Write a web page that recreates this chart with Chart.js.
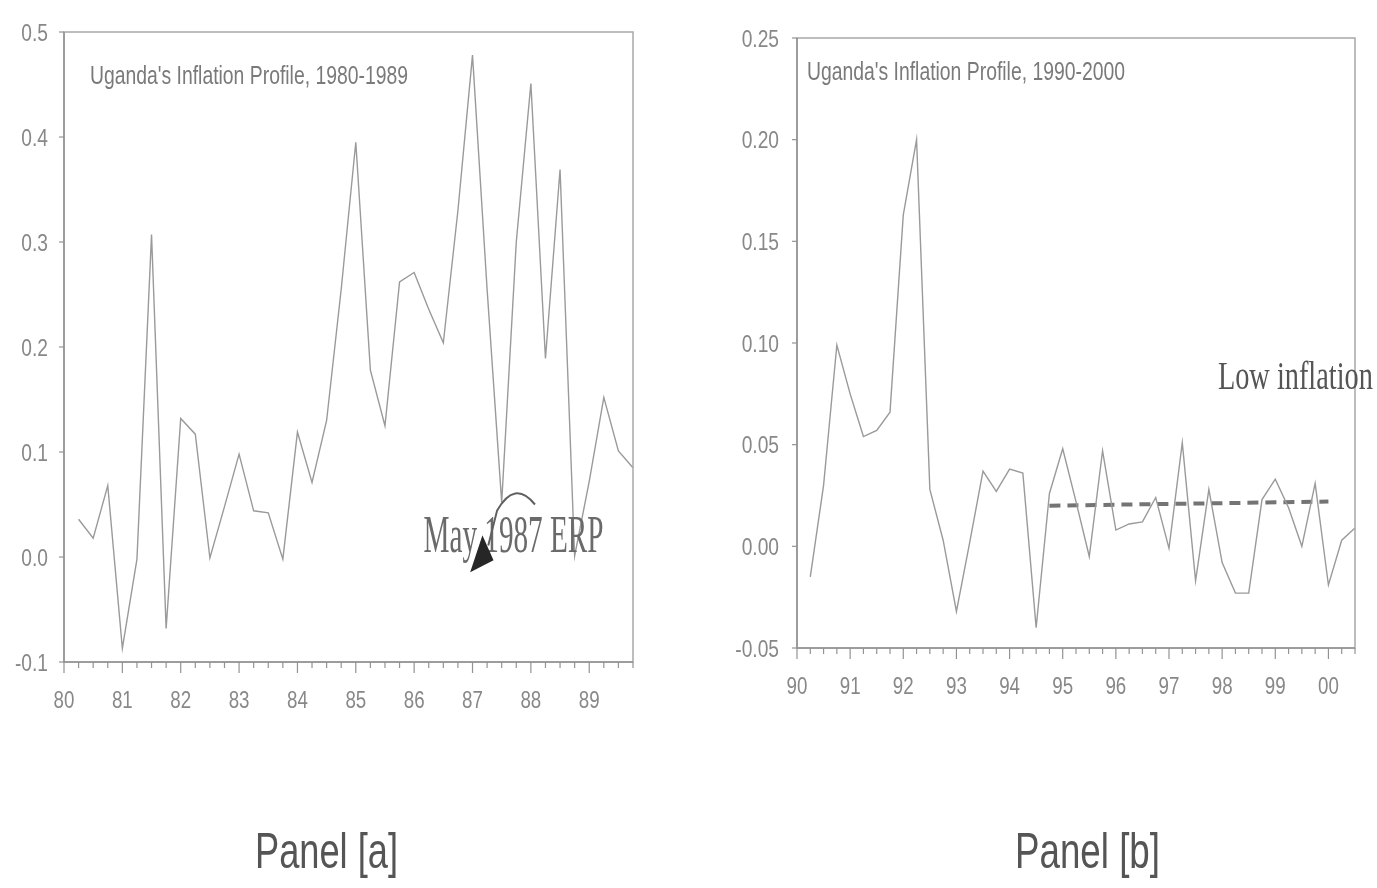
<!DOCTYPE html>
<html>
<head>
<meta charset="utf-8">
<script src="https://cdn.jsdelivr.net/npm/chart.js@4.4.1/dist/chart.umd.min.js"></script>
<style>
  html, body { margin: 0; padding: 0; background: #fff; }
  .panel { position: absolute; top: 0; height: 888px; }
  #panelA { left: 0; width: 690px; }
  #panelB { left: 690px; width: 687px; }
</style>
</head>
<body>
<div class="panel" id="panelA"><canvas id="chartA"></canvas></div>
<div class="panel" id="panelB"><canvas id="chartB"></canvas></div>
<script>
// quarterly inflation, 1980s
const quartersA = [
  '1980Q1', '1980Q2', '1980Q3', '1980Q4',
  '1981Q1', '1981Q2', '1981Q3', '1981Q4',
  '1982Q1', '1982Q2', '1982Q3', '1982Q4',
  '1983Q1', '1983Q2', '1983Q3', '1983Q4',
  '1984Q1', '1984Q2', '1984Q3', '1984Q4',
  '1985Q1', '1985Q2', '1985Q3', '1985Q4',
  '1986Q1', '1986Q2', '1986Q3', '1986Q4',
  '1987Q1', '1987Q2', '1987Q3', '1987Q4',
  '1988Q1', '1988Q2', '1988Q3', '1988Q4',
  '1989Q1', '1989Q2', '1989Q3', '1989Q4',
];
const inflationA = [
  null, 0.036, 0.018, 0.068,
  -0.087, -0.002, 0.307, -0.068,
  0.132, 0.117, -0.001, 0.048,
  0.098, 0.044, 0.042, -0.002,
  0.119, 0.071, 0.130, 0.255,
  0.395, 0.178, 0.125, 0.262,
  0.271, 0.236, 0.204, 0.330,
  0.478, 0.255, 0.052, 0.300,
  0.451, 0.189, 0.369, 0.001,
  0.072, 0.152, 0.101, 0.085,
];

// quarterly inflation, 1990s
const quartersB = [
  '1990Q1', '1990Q2', '1990Q3', '1990Q4',
  '1991Q1', '1991Q2', '1991Q3', '1991Q4',
  '1992Q1', '1992Q2', '1992Q3', '1992Q4',
  '1993Q1', '1993Q2', '1993Q3', '1993Q4',
  '1994Q1', '1994Q2', '1994Q3', '1994Q4',
  '1995Q1', '1995Q2', '1995Q3', '1995Q4',
  '1996Q1', '1996Q2', '1996Q3', '1996Q4',
  '1997Q1', '1997Q2', '1997Q3', '1997Q4',
  '1998Q1', '1998Q2', '1998Q3', '1998Q4',
  '1999Q1', '1999Q2', '1999Q3', '1999Q4',
  '2000Q1', '2000Q2', '2000Q3',
];
const inflationB = [
  null, -0.015, 0.030, 0.099,
  0.075, 0.054, 0.057, 0.066,
  0.163, 0.200, 0.028, 0.003,
  -0.032, 0.002, 0.037, 0.027,
  0.038, 0.036, -0.040, 0.026,
  0.048, 0.022, -0.005, 0.047,
  0.008, 0.011, 0.012, 0.024,
  -0.001, 0.051, -0.017, 0.028,
  -0.008, -0.023, -0.023, 0.023,
  0.033, 0.019, 0.000, 0.031,
  -0.019, 0.003, 0.009,
];

// average level over the low-inflation stretch
const lowInflationQuarters = ['1994Q4', '2000Q1'];
const lowInflationLevel = [0.020, 0.022];

const valueTicksA = [-0.1, 0.0, 0.1, 0.2, 0.3, 0.4, 0.5];
const valueTicksB = [-0.05, 0.00, 0.05, 0.10, 0.15, 0.20, 0.25];

const AXIS = '#939393';
const TICK_TEXT = '#888';
const SERIES = '#9a9a9a';

// text in this figure is set narrow, so squeeze it horizontally
function squeezed(ctx, text, font, x, y, sx, align, color) {
  ctx.save();
  ctx.font = font;
  ctx.fillStyle = color;
  ctx.textBaseline = 'alphabetic';
  ctx.textAlign = 'left';
  const w = ctx.measureText(text).width;
  ctx.translate(x, y);
  ctx.scale(sx, 1);
  let ox = 0;
  if (align === 'right') ox = -w;
  else if (align === 'center') ox = -w / 2;
  ctx.fillText(text, ox, 0);
  ctx.restore();
}

function fitted(ctx, text, font, x, y, width, color) {
  ctx.save();
  ctx.font = font;
  const sx = width / ctx.measureText(text).width;
  ctx.restore();
  squeezed(ctx, text, font, x, y, sx, 'left', color);
}

function xAt(chart, year) {
  const first = parseInt(chart.data.labels[0], 10);
  return chart.scales.x.getPixelForValue((year - first) * 4);
}
function yAt(chart, v) {
  return chart.scales.y.getPixelForValue(v);
}

const framePlugin = {
  id: 'frame',
  afterDraw(chart, args, opts) {
    const ctx = chart.ctx;
    const a = chart.chartArea;
    const sx = chart.scales.x;
    const sy = chart.scales.y;

    ctx.save();
    ctx.strokeStyle = '#a8a8a8';
    ctx.lineWidth = 1.5;
    ctx.strokeRect(a.left, a.top, a.right - a.left, a.bottom - a.top);
    ctx.strokeStyle = AXIS;
    ctx.beginPath();
    ctx.moveTo(a.left, a.top);
    ctx.lineTo(a.left, a.bottom);
    ctx.lineTo(a.right, a.bottom);
    ctx.stroke();

    // quarter ticks along the time axis, longer at each year
    ctx.lineWidth = 1.2;
    chart.data.labels.forEach((q, i) => {
      const px = sx.getPixelForValue(i);
      const major = q.endsWith('Q1');
      ctx.beginPath();
      ctx.moveTo(px, a.bottom);
      ctx.lineTo(px, a.bottom + (major ? 11 : 6));
      ctx.stroke();
      if (major) {
        squeezed(ctx, q.slice(2, 4), '24px "Liberation Sans"', px, a.bottom + 46,
          0.78, 'center', TICK_TEXT);
      }
    });

    // value ticks
    opts.valueTicks.forEach(v => {
      const py = sy.getPixelForValue(v);
      ctx.beginPath();
      ctx.moveTo(a.left - 5, py);
      ctx.lineTo(a.left, py);
      ctx.stroke();
      squeezed(ctx, v.toFixed(opts.decimals), '24px "Liberation Sans"',
        a.left - opts.labelGap, py + 8.5, 0.8, 'right', TICK_TEXT);
    });
    ctx.restore();

    fitted(ctx, opts.title, '26px "Liberation Sans"', a.left + opts.titleDx,
      a.top + opts.titleDy, 318, '#7a7a7a');
    fitted(ctx, opts.caption, '50px "Liberation Sans"', opts.captionX, 868,
      opts.captionW, '#555');

    if (opts.draw) opts.draw(chart, ctx);
  },
};

// ERP label with the curved arrow pointing at 1987
function drawErp(chart, ctx) {
  fitted(ctx, 'May 1987 ERP', '52px "Liberation Serif"', xAt(chart, 1986.16),
    yAt(chart, 0.0045), 180, '#6a6a6a');

  ctx.save();
  ctx.strokeStyle = '#606060';
  ctx.lineWidth = 2;
  ctx.beginPath();
  ctx.moveTo(xAt(chart, 1987.27), yAt(chart, 0.011));
  ctx.lineTo(xAt(chart, 1987.42), yAt(chart, 0.044));
  ctx.quadraticCurveTo(xAt(chart, 1987.72), yAt(chart, 0.074),
    xAt(chart, 1988.07), yAt(chart, 0.050));
  ctx.stroke();

  ctx.fillStyle = '#262626';
  ctx.beginPath();
  ctx.moveTo(xAt(chart, 1986.96), yAt(chart, -0.0146));
  ctx.lineTo(xAt(chart, 1987.17), yAt(chart, 0.0207));
  ctx.lineTo(xAt(chart, 1987.36), yAt(chart, -0.003));
  ctx.closePath();
  ctx.fill();
  ctx.restore();
}

function drawLowInflation(chart, ctx) {
  fitted(ctx, 'Low inflation', '40px "Liberation Serif"', xAt(chart, 1997.92),
    yAt(chart, 0.0775), 155, '#555');
}

function makePanel(canvasId, cfg) {
  return new Chart(document.getElementById(canvasId), {
    type: 'line',
    data: { labels: cfg.labels, datasets: cfg.datasets },
    options: {
      responsive: true,
      maintainAspectRatio: false,
      animation: false,
      layout: { padding: cfg.padding },
      elements: { point: { radius: 0 }, line: { tension: 0 } },
      plugins: {
        legend: { display: false },
        tooltip: { enabled: false },
        frame: cfg.frame,
      },
      scales: {
        x: {
          type: 'category',
          offset: false,
          grid: { display: false },
          border: { display: false },
          ticks: { display: false },
          afterFit: s => { s.height = 60; },
        },
        y: {
          min: cfg.min,
          max: cfg.max,
          grid: { display: false },
          border: { display: false },
          ticks: { display: false },
          afterFit: s => { s.width = cfg.yWidth; },
        },
      },
    },
    plugins: [framePlugin],
  });
}

makePanel('chartA', {
  labels: quartersA,
  min: -0.1,
  max: 0.5,
  yWidth: 64,
  padding: { left: 0, right: 57, top: 32, bottom: 166 },
  datasets: [{
    data: inflationA,
    borderColor: SERIES,
    borderWidth: 1.4,
  }],
  frame: {
    valueTicks: valueTicksA,
    decimals: 1,
    labelGap: 16,
    title: "Uganda's Inflation Profile, 1980-1989",
    titleDx: 26,
    titleDy: 52,
    caption: 'Panel [a]',
    captionX: 255,
    captionW: 143,
    draw: drawErp,
  },
});

makePanel('chartB', {
  labels: quartersB,
  min: -0.05,
  max: 0.25,
  yWidth: 107,
  padding: { left: 0, right: 22, top: 38, bottom: 180 },
  datasets: [
    {
      data: inflationB,
      borderColor: SERIES,
      borderWidth: 1.4,
    },
    {
      data: lowInflationQuarters.map((q, i) => ({ x: q, y: lowInflationLevel[i] })),
      borderColor: '#747474',
      borderWidth: 4,
      borderDash: [11, 7],
    },
  ],
  frame: {
    valueTicks: valueTicksB,
    decimals: 2,
    labelGap: 18,
    title: "Uganda's Inflation Profile, 1990-2000",
    titleDx: 10,
    titleDy: 42,
    caption: 'Panel [b]',
    captionX: 325,
    captionW: 145,
    draw: drawLowInflation,
  },
});
</script>
</body>
</html>
